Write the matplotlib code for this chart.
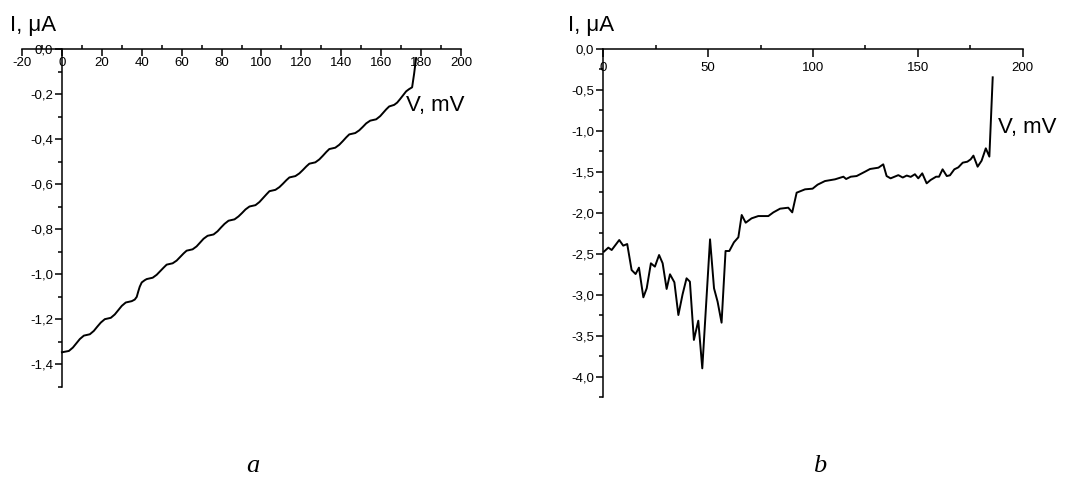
import matplotlib
matplotlib.use("Agg")
import matplotlib.pyplot as plt
from matplotlib.ticker import FixedLocator, FuncFormatter

plt.rcParams['font.family'] = ['Liberation Sans', 'DejaVu Sans']

# ---------------- data: panel a ----------------
v_a = [0, 3.5, 5.5, 7.25, 9, 11,
       14, 16, 17.75, 19.5, 21.5,
       24.5, 26.5, 28.25, 30, 32,
       35, 36.5, 37.5, 38.3, 39, 40, 41.5, 42.5,
       45.5, 47.5, 49.25, 51, 52.5,
       55.5, 57.5, 59.25, 61, 62.5,
       65.5, 67.5, 69.25, 71, 73,
       76, 78, 79.75, 81.5, 83.5,
       86.5, 88.5, 90.25, 92, 94,
       97, 99, 100.75, 102.5, 104,
       107, 109, 110.75, 112.5, 114,
       117, 119, 120.75, 122.5, 124,
       127, 129, 130.75, 132.5, 134,
       137, 139, 140.75, 142.5, 144,
       147, 149, 150.75, 152.5, 154.5,
       157.5, 159.5, 161, 162.5, 164,
       166.5, 168, 169.5, 171, 172.5, 174, 175.5, 176.5, 177.5]
i_a = [-1.346, -1.340, -1.325, -1.306, -1.287, -1.272,
       -1.266, -1.251, -1.232, -1.214, -1.199,
       -1.193, -1.178, -1.159, -1.140, -1.125,
       -1.119, -1.112, -1.100, -1.075, -1.055, -1.036, -1.026, -1.021,
       -1.015, -1.002, -0.986, -0.970, -0.957,
       -0.951, -0.939, -0.923, -0.907, -0.895,
       -0.889, -0.876, -0.859, -0.842, -0.829,
       -0.823, -0.809, -0.792, -0.776, -0.762,
       -0.756, -0.743, -0.728, -0.712, -0.699,
       -0.693, -0.679, -0.662, -0.645, -0.631,
       -0.625, -0.613, -0.598, -0.582, -0.570,
       -0.564, -0.552, -0.537, -0.521, -0.509,
       -0.503, -0.490, -0.474, -0.457, -0.444,
       -0.438, -0.425, -0.409, -0.392, -0.379,
       -0.373, -0.361, -0.346, -0.330, -0.318,
       -0.312, -0.298, -0.283, -0.268, -0.255,
       -0.248, -0.238, -0.222, -0.205, -0.188, -0.178, -0.170, -0.110, -0.040]

# ---------------- data: panel b ----------------
v_b = [0.3, 2.4, 4.0, 7.6, 9.5, 11.4, 13.5, 15.4, 17.0, 19.1, 20.7, 22.7,
       24.6, 26.6, 28.3, 30.2, 31.8, 33.9, 35.8, 37.8, 39.7, 41.3, 43.2,
       45.3, 47.2, 50.9, 52.8, 54.5, 56.4, 58.3, 60.1, 62.3, 64.4, 66.0,
       67.9, 70.7, 73.9, 78.7, 81.1, 84.3, 88.2, 90.1, 92.2, 96.2, 99.8,
       102.2, 105.7, 110.5, 114.5, 115.8, 118.0, 120.8, 124.8, 127.2,
       131.2, 133.5, 135.1, 137.0, 140.7, 142.8, 144.7, 146.6, 148.6,
       150.2, 152.1, 154.2, 156.1, 158.7, 160.1, 161.8, 163.8, 165.3,
       167.4, 169.3, 171.4, 173.6, 175.2, 176.5, 178.5, 180.4, 182.4,
       184.1, 185.7]
i_b = [-2.475, -2.426, -2.455, -2.333, -2.402, -2.382, -2.699, -2.748,
       -2.670, -3.032, -2.922, -2.617, -2.658, -2.516, -2.617, -2.930,
       -2.751, -2.849, -3.248, -2.996, -2.800, -2.841, -3.552, -3.317,
       -3.898, -2.325, -2.922, -3.085, -3.341, -2.467, -2.467, -2.361,
       -2.300, -2.028, -2.122, -2.069, -2.041, -2.041, -1.996, -1.951,
       -1.939, -1.996, -1.756, -1.715, -1.707, -1.658, -1.614, -1.593,
       -1.561, -1.589, -1.561, -1.553, -1.500, -1.467, -1.451, -1.410,
       -1.553, -1.581, -1.542, -1.571, -1.547, -1.563, -1.531, -1.581,
       -1.520, -1.642, -1.601, -1.561, -1.561, -1.471, -1.553, -1.544,
       -1.471, -1.447, -1.390, -1.378, -1.349, -1.304, -1.439, -1.366,
       -1.215, -1.316, -0.349]

# ticks
xmaj_a = [-20, 0, 20, 40, 60, 80, 100, 120, 140, 160, 180, 200]
xmin_a = [-10, 10, 30, 50, 70, 90, 110, 130, 150, 170, 190]
ymaj_a = [0.0, -0.2, -0.4, -0.6, -0.8, -1.0, -1.2, -1.4]
ymin_a = [-0.1, -0.3, -0.5, -0.7, -0.9, -1.1, -1.3, -1.5]
xmaj_b = [0, 50, 100, 150, 200]
xmin_b = [25, 75, 125, 175]
ymaj_b = [0.0, -0.5, -1.0, -1.5, -2.0, -2.5, -3.0, -3.5, -4.0]
ymin_b = [-0.25, -0.75, -1.25, -1.75, -2.25, -2.75, -3.25, -3.75, -4.25]


def comma(v, pos=None):
    if abs(v) < 1e-9:
        return "0,0"
    return f"{v:.1f}".replace('.', ',')


def style_axes(ax, xlim, ylim, xmaj, xmin, ymaj, ymin, xlen, xpad):
    ax.set_xlim(*xlim)
    ax.set_ylim(*ylim)
    ax.patch.set_alpha(0)
    for s in ('right', 'top'):
        ax.spines[s].set_visible(False)
    ax.spines['bottom'].set_position(('data', 0))
    ax.spines['left'].set_position(('data', 0))
    for s in ('bottom', 'left'):
        ax.spines[s].set_linewidth(1.1)
    ax.xaxis.set_major_locator(FixedLocator(xmaj))
    ax.xaxis.set_minor_locator(FixedLocator(xmin))
    ax.yaxis.set_major_locator(FixedLocator(ymaj))
    ax.yaxis.set_minor_locator(FixedLocator(ymin))
    ax.xaxis.set_major_formatter(FuncFormatter(lambda v, p: f"{v:g}"))
    ax.yaxis.set_major_formatter(FuncFormatter(comma))
    ax.tick_params(axis='x', which='major', direction='out', length=xlen,
                   width=1.1, pad=xpad, labelsize=9.5)
    ax.tick_params(axis='x', which='minor', direction='in', length=3,
                   width=1.1)
    ax.tick_params(axis='y', which='major', direction='out', length=5,
                   width=1.1, pad=1.5, labelsize=9.5)
    ax.tick_params(axis='y', which='minor', direction='out', length=3,
                   width=1.1)


W, H = 1080, 483
fig = plt.figure(figsize=(W / 100, H / 100), dpi=100)

# panel a
axA = fig.add_axes([22 / W, 1 - 387 / H, 439 / W, 338 / H])
style_axes(axA, (-20, 200), (-1.5, 0), xmaj_a, xmin_a, ymaj_a, ymin_a, 5, 0.5)
axA.plot(v_a, i_a, color='black', lw=1.4, clip_on=False)
axA.text(172.5, -0.249, "V, mV", fontsize=16, ha='left', va='center')

# panel b
axB = fig.add_axes([603.3 / W, 1 - 397.2 / H, 419.4 / W, 348.5 / H])
style_axes(axB, (0, 200), (-4.25, 0), xmaj_b, xmin_b, ymaj_b, ymin_b, 6, 3.5)
axB.plot(v_b, i_b, color='black', lw=1.4, clip_on=False)
axB.text(188.2, -0.955, "V, mV", fontsize=16, ha='left', va='center')

fig.text(10 / W, 1 - 25 / H, "I, μA", fontsize=16, ha='left', va='center')
fig.text(568 / W, 1 - 25 / H, "I, μA", fontsize=16, ha='left', va='center')

fig.text(253 / W, 1 - 466 / H, "a", fontsize=19, style='italic',
         family='Liberation Serif', ha='center', va='center')
fig.text(820 / W, 1 - 466 / H, "b", fontsize=19, style='italic',
         family='Liberation Serif', ha='center', va='center')

fig.savefig("out.png", dpi=100)
